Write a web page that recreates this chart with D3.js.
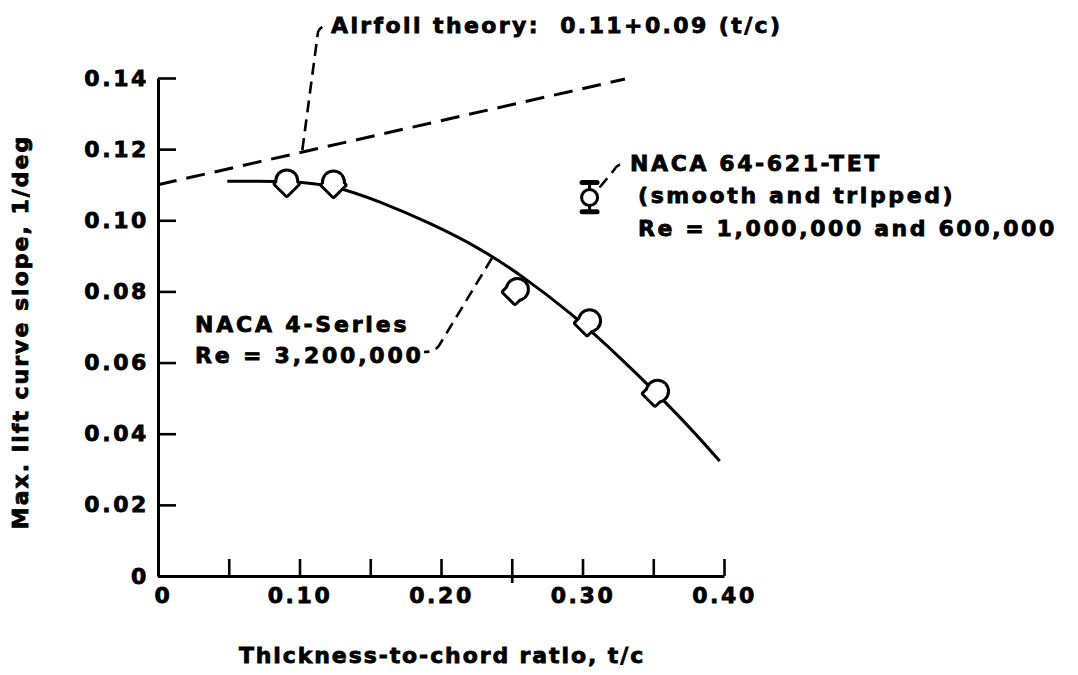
<!DOCTYPE html>
<html>
<head>
<meta charset="utf-8">
<script src="https://cdn.jsdelivr.net/npm/d3@7"></script>
<style>
  body { margin: 0; background: #fff; }
  svg { display: block; }
  text {
    font-family: "DejaVu Sans", sans-serif;
    font-weight: bold;
    font-size: 22px;
    fill: #000;
    stroke: #000;
    stroke-width: 0.8px;
  }
</style>
</head>
<body>
<div id="vis"></div>
<script>
// ---- data ----
// NACA 4-series test points (t/c, max lift curve slope)
var series4 = [
  [0.091, 0.1105],
  [0.124, 0.1102],
  [0.254, 0.0800],
  [0.305, 0.0712],
  [0.353, 0.0514]
];

// faired curve through the 4-series data
var fairedCurve = [
  [0.049, 0.1110],
  [0.070, 0.1110],
  [0.091, 0.1110],
  [0.124, 0.1100],
  [0.157, 0.1052],
  [0.192, 0.0993],
  [0.227, 0.0923],
  [0.258, 0.0842],
  [0.291, 0.0742],
  [0.327, 0.0614],
  [0.371, 0.0440],
  [0.397, 0.0323]
];

// airfoil theory line, 0.11 + 0.09 (t/c)
var theoryLine = [
  [0.0, 0.110],
  [0.33, 0.1397]
];

// NACA 64-621-TET point with its spread
var naca64 = [
  {tc: 0.305, v: 0.1064, lo: 0.1024, hi: 0.1106}
];

var xTicks = [0, 0.05, 0.10, 0.15, 0.20, 0.25, 0.30, 0.35, 0.40];
var xLabelTicks = [0, 0.10, 0.20, 0.30, 0.40];
var yTicks = [0, 0.02, 0.04, 0.06, 0.08, 0.10, 0.12, 0.14];

// ---- layout ----
var width = 1078, height = 675;

var x = d3.scaleLinear().domain([0, 0.4]).range([158, 724]);
var y = d3.scaleLinear().domain([0, 0.14]).range([576, 78]);

var svg = d3.select("#vis")
    .append("svg")
    .attr("width", width)
    .attr("height", height);

var fmt = function(d) { return d === 0 ? "0" : d3.format(".2f")(d); };

////////// axes //////////

var yAxis = svg.append("g")
    .attr("transform", "translate(" + x(0) + ",0)")
    .call(d3.axisLeft(y)
        .tickValues(yTicks)
        .tickSizeInner(-18)
        .tickSizeOuter(0)
        .tickPadding(9)
        .tickFormat(fmt));

var xAxis = svg.append("g")
    .attr("transform", "translate(0," + y(0) + ")")
    .call(d3.axisBottom(x)
        .tickValues(xTicks)
        .tickSizeInner(-17)
        .tickSizeOuter(0)
        .tickPadding(11)
        .tickFormat(function(d) {
          return xLabelTicks.some(function(v) { return Math.abs(v - d) < 1e-9; }) ? fmt(d) : "";
        }));

[xAxis, yAxis].forEach(function(ax) {
  ax.select(".domain").attr("stroke", "#000").attr("stroke-width", 3);
  ax.selectAll(".tick line").attr("stroke", "#000").attr("stroke-width", 2.6);
  ax.selectAll(".tick text").style("letter-spacing", "2.6px");
});

// the 0.25 tick pokes below the axis a little
xAxis.selectAll(".tick")
    .filter(function(d) { return Math.abs(d - 0.25) < 1e-9; })
    .select("line")
    .attr("y2", 7)
    .attr("y1", -17);

// "0" on the x axis sits a bit to the right of the corner
xAxis.selectAll(".tick text")
    .filter(function(d) { return d === 0; })
    .attr("x", 5);

// axis titles
svg.append("text")
    .attr("x", 442)
    .attr("y", 663)
    .attr("text-anchor", "middle")
    .style("letter-spacing", "1.9px")
    .text("Thickness-to-chord ratio, t/c");

svg.append("text")
    .attr("transform", "translate(28,332) rotate(-90)")
    .attr("text-anchor", "middle")
    .style("letter-spacing", "2px")
    .text("Max. lift curve slope, 1/deg");

////////// lines //////////

var line = d3.line()
    .x(function(d) { return x(d[0]); })
    .y(function(d) { return y(d[1]); });

svg.append("path")
    .datum(theoryLine)
    .attr("d", line)
    .attr("fill", "none")
    .attr("stroke", "#000")
    .attr("stroke-width", 3)
    .attr("stroke-dasharray", "19,10");

var smooth = d3.line()
    .curve(d3.curveBasis)
    .x(function(d) { return x(d[0]); })
    .y(function(d) { return y(d[1]); });

svg.append("path")
    .datum(fairedCurve)
    .attr("d", smooth)
    .attr("fill", "none")
    .attr("stroke", "#000")
    .attr("stroke-width", 3);

////////// markers //////////

// each point is a circle overlapped by a diamond; draw both outlines wide,
// then fill both white so only the outer edge of the union is left
var cr = 9.5, dr = 11;
var diamond = "M0," + (-dr) + " L" + dr + ",0 L0," + dr + " L" + (-dr) + ",0 Z";
var dOff = function(d) { return d[0] < 0.2 ? [0, 3] : [-2.5, 2.5]; };

var pts = svg.selectAll(".pt")
    .data(series4)
    .enter()
    .append("g")
    .attr("class", "pt")
    .attr("transform", function(d) { return "translate(" + x(d[0]) + "," + (y(d[1]) - 2) + ")"; });

function shapes(g, fill, stroke, sw) {
  g.append("path")
      .attr("d", diamond)
      .attr("transform", function(d) { return "translate(" + dOff(d) + ")"; })
      .attr("fill", fill)
      .attr("stroke", stroke)
      .attr("stroke-width", sw)
      .attr("stroke-linejoin", "round");
  g.append("circle")
      .attr("r", cr)
      .attr("fill", fill)
      .attr("stroke", stroke)
      .attr("stroke-width", sw);
}
shapes(pts, "#000", "#000", 6);
shapes(pts, "#fff", "none", 0);

var eb = svg.selectAll(".eb")
    .data(naca64)
    .enter()
    .append("g")
    .attr("class", "eb");

eb.append("line")
    .attr("x1", function(d) { return x(d.tc); })
    .attr("x2", function(d) { return x(d.tc); })
    .attr("y1", function(d) { return y(d.hi); })
    .attr("y2", function(d) { return y(d.lo); })
    .attr("stroke", "#000")
    .attr("stroke-width", 3);

eb.selectAll(".cap")
    .data(function(d) { return [[d.tc, d.hi], [d.tc, d.lo]]; })
    .enter()
    .append("line")
    .attr("x1", function(d) { return x(d[0]) - 7.5; })
    .attr("x2", function(d) { return x(d[0]) + 7.5; })
    .attr("y1", function(d) { return y(d[1]); })
    .attr("y2", function(d) { return y(d[1]); })
    .attr("stroke", "#000")
    .attr("stroke-width", 5)
    .attr("stroke-linecap", "round");

eb.append("circle")
    .attr("cx", function(d) { return x(d.tc); })
    .attr("cy", function(d) { return y(d.v); })
    .attr("r", 8)
    .attr("fill", "#fff")
    .attr("stroke", "#000")
    .attr("stroke-width", 3);

////////// annotations //////////

function leader(pathD) {
  svg.append("path")
      .attr("d", pathD)
      .attr("fill", "none")
      .attr("stroke", "#000")
      .attr("stroke-width", 2.6)
      .attr("stroke-dasharray", "12,7");
}

// airfoil theory
var aT = [0.102, 0.11 + 0.09 * 0.102];
leader("M" + x(aT[0]) + "," + (y(aT[1]) - 2) + " L318,32 Q320,26 328,25");
svg.append("text")
    .attr("x", 331)
    .attr("y", 33)
    .style("letter-spacing", "2.4px")
    .attr("xml:space", "preserve")
    .text("Airfoil theory:  0.11+0.09 (t/c)");

// NACA 64-621-TET
var n64 = naca64[0];
leader("M" + (x(n64.tc) + 10) + "," + (y(n64.v) - 10) + " L614,170 Q618,163 627,163");
var t64 = svg.append("text")
    .attr("y", 171)
    .style("letter-spacing", "2.6px");
t64.append("tspan").attr("x", 630).attr("dy", 0).text("NACA 64-621-TET");
t64.append("tspan").attr("x", 638).attr("dy", 32).text("(smooth and tripped)");
t64.append("tspan").attr("x", 638).attr("dy", 33).text("Re = 1,000,000 and 600,000");

// NACA 4-series
var a4 = [0.236, 0.0905];
leader("M" + x(a4[0]) + "," + (y(a4[1]) + 4) + " L440,344 Q436,352 424,352");
var t4 = svg.append("text")
    .attr("y", 332)
    .style("letter-spacing", "2.8px");
t4.append("tspan").attr("x", 195).attr("dy", 0).text("NACA 4-Series");
t4.append("tspan").attr("x", 195).attr("dy", 31).text("Re = 3,200,000");
</script>
</body>
</html>
